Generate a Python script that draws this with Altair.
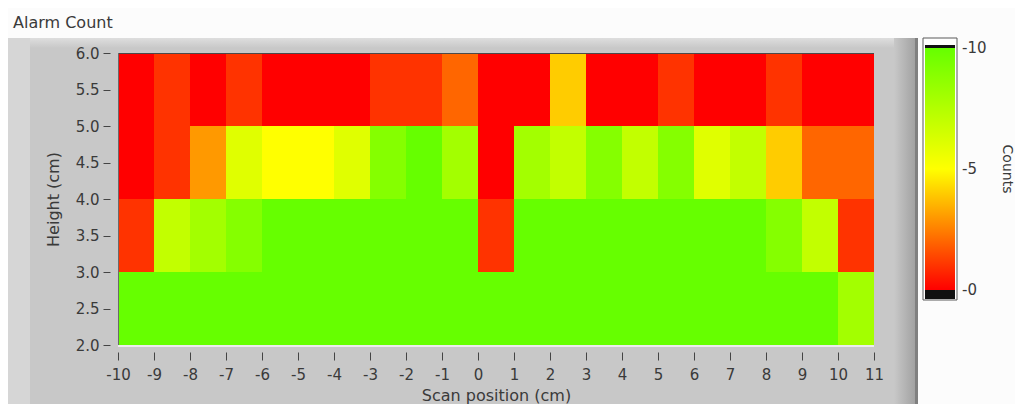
import altair as alt
import pandas as pd

# ---- data ----
x_starts = [-10, -9, -8, -7, -6, -5, -4, -3, -2, -1, 0, 1, 2, 3, 4, 5, 6, 7, 8, 9, 10]
row_bottoms = [2, 3, 4, 5]
counts_2_3 = [10, 10, 10, 10, 10, 10, 10, 10, 10, 10, 10, 10, 10, 10, 10, 10, 10, 10, 10, 10, 8]
counts_3_4 = [1, 7, 8, 9, 10, 10, 10, 10, 10, 10, 1, 10, 10, 10, 10, 10, 10, 10, 9, 7, 1]
counts_4_5 = [0, 1, 3, 6, 5, 5, 6, 9, 10, 8, 0, 8, 7, 9, 7, 9, 6, 7, 4, 2, 2]
counts_5_6 = [0, 1, 0, 1, 0, 0, 0, 1, 1, 2, 0, 0, 4, 0, 0, 1, 0, 0, 1, 0, 0]
x_ticks = [-10, -9, -8, -7, -6, -5, -4, -3, -2, -1, 0, 1, 2, 3, 4, 5, 6, 7, 8, 9, 10, 11]
y_ticks = [2.0, 2.5, 3.0, 3.5, 4.0, 4.5, 5.0, 5.5, 6.0]
# colour-bar label positions (0, 5, 10; ends nudged inside so labels stay centred on them)
legend_ticks = [0.01, 5, 9.99]
color_stops = [0, 5, 10]
color_range = ["#ff0000", "#ffff00", "#66ff00"]

rows = []
for yb, vals in zip(row_bottoms, [counts_2_3, counts_3_4, counts_4_5, counts_5_6]):
    for xs, v in zip(x_starts, vals):
        rows.append({"x": xs, "x2": xs + 1, "y": yb, "y2": yb + 1, "count": v})
df = pd.DataFrame(rows)

FONT = "DejaVu Sans"
TXT = "#3a3a3a"
W, H = 756, 292
one = pd.DataFrame({"k": [0]})


def deco(color, x, x2, y, y2, **kw):
    return alt.Chart(one).mark_rect(color=color, **kw).encode(
        x=alt.value(x), x2=alt.value(x2), y=alt.value(y), y2=alt.value(y2))


# panel frame (LabVIEW style)
frame = deco("#c8c8c8", -110, 800, -15, 351)
left_strip = deco("#d6d6d6", -110, -88, -15, 351)
top_strip = deco(alt.LinearGradient(gradient="linear",
                                    stops=[alt.GradientStop(color="#dedede", offset=0),
                                           alt.GradientStop(color="#c8c8c8", offset=1)],
                                    x1=0, x2=0, y1=0, y2=1), -88, 800, -15, -5)
right_shade = deco(alt.LinearGradient(gradient="linear",
                                      stops=[alt.GradientStop(color="#c8c8c8", offset=0),
                                             alt.GradientStop(color="#a2a2a2", offset=1)],
                                      x1=0, x2=1, y1=0, y2=0), 776, 797, -15, 351)
right_line = deco("#808080", 797, 800, -15, 351)

# colour-bar frame and under/overflow bands
cb_frame = deco("#ffffff", 805, 839, -15, 247, stroke="#5a5a5a", strokeWidth=1)
cb_over_black = deco("#111111", 807, 837, -8, -5)
cb_under_black = deco("#111111", 807, 837, 237, 246)

heat = alt.Chart(df).mark_rect(strokeWidth=0).encode(
    x=alt.X("x:Q", scale=alt.Scale(domain=[-10, 11], nice=False, zero=False),
            axis=alt.Axis(title="Scan position (cm)", values=x_ticks,
                          labelExpr="toString(datum.value)", labelOverlap=False,
                          labelFlush=False, grid=False, domain=False, offset=7,
                          tickSize=8, labelPadding=7, titlePadding=5, zindex=2)),
    x2="x2:Q",
    y=alt.Y("y:Q", scale=alt.Scale(domain=[2, 6], nice=False, zero=False),
            axis=alt.Axis(title="Height (cm)", values=y_ticks, format=".1f",
                          labelOverlap=False, labelFlush=False,
                          grid=False, domain=False, offset=8, tickSize=7,
                          labelPadding=4, titlePadding=14, zindex=2)),
    y2="y2:Q",
    color=alt.Color("count:Q",
                    scale=alt.Scale(domain=color_stops, range=color_range, interpolate="rgb"),
                    legend=alt.Legend(title=None, orient="none", legendX=807, legendY=-5,
                                      direction="vertical", gradientLength=242,
                                      gradientThickness=30, gradientStrokeWidth=0,
                                      values=legend_ticks,
                                      labelExpr="'-' + format(datum.value, '.0f')",
                                      labelOffset=7, labelBaseline="middle",
                                      labelOverlap=False,
                                      labelFontSize=15, labelFont=FONT, labelColor=TXT,
                                      padding=0, zindex=2)),
)

top_edge = deco("#4a4a4a", 0, W, 0, 1)
left_edge = deco("#6a6a6a", 0, 1, 0, H)
bottom_edge = deco("#ececec", 0, W, H, H + 2)

counts_title = alt.Chart(pd.DataFrame({"t": ["Counts"]})).mark_text(
    angle=90, font=FONT, fontSize=14, color=TXT, align="center", baseline="middle"
).encode(text="t:N", x=alt.value(889), y=alt.value(116))

chart = alt.layer(
    frame, left_strip, top_strip, right_shade, right_line,
    cb_frame, cb_over_black, cb_under_black, bottom_edge,
    heat, top_edge, left_edge, counts_title,
).properties(
    width=W, height=H,
    title=alt.TitleParams("Alarm Count", anchor="start", frame="group", dx=-105,
                          offset=7, fontSize=16, font=FONT, fontWeight="normal",
                          color=TXT),
    autosize=alt.AutoSizeParams(type="none"),
    padding={"left": 110, "top": 45, "right": 141, "bottom": 59},
    background="#fcfcfc",
).configure_view(stroke=None).configure_axis(
    labelFont=FONT, labelFontSize=15, labelColor=TXT, titleFont=FONT,
    titleFontSize=16, titleFontWeight="normal", titleColor=TXT,
    tickColor="#444444", tickWidth=1,
)

chart.save("out.html", embed_options={"renderer": "svg", "actions": False})
